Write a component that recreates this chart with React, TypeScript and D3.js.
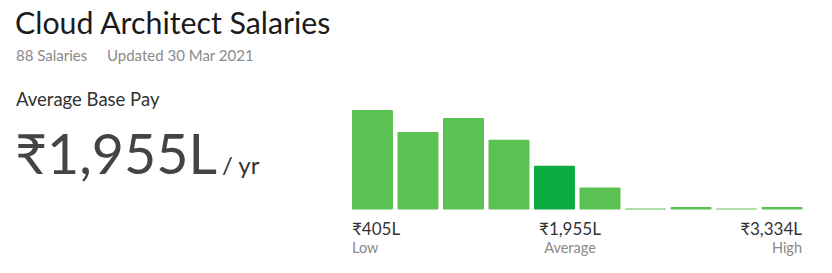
import React from "react";
import * as d3 from "d3";

// Salary distribution buckets (relative share of salaries per band)
const bucketShares = [100, 78, 92, 70, 44, 22, 1, 2.5, 1, 2.5];
const averageBucket = 4;

const title = "Cloud Architect Salaries";
const salaryCount = "88 Salaries";
const updated = "Updated 30 Mar 2021";
const payLabel = "Average Base Pay";
const averagePay = "₹1,955L";
const perYear = "/ yr";
const lowValue = "₹405L";
const averageValue = "₹1,955L";
const highValue = "₹3,334L";
const lowLabel = "Low";
const averageLabel = "Average";
const highLabel = "High";

const W = 832;
const H = 273;
const FONT = "Lato, 'Open Sans', sans-serif";
const LIGHT = "#5bc152";
const DARK = "#0caa41";

export default function App() {
  const x = d3
    .scaleBand<number>()
    .domain(bucketShares.map((_, i) => i))
    .range([352, 802.5])
    .paddingInner(0.1)
    .paddingOuter(0);
  const baseY = 209.5;
  const y = d3
    .scaleLinear()
    .domain([0, d3.max(bucketShares) as number])
    .range([baseY, 110]);

  return (
    <svg
      width={W}
      height={H}
      viewBox={`0 0 ${W} ${H}`}
      style={{ position: "absolute", left: 0, top: 0, background: "#fff" }}
      fontFamily={FONT}
    >
      <text x={15} y={33.5} fontSize={30.3} fill="#1b1b1b">
        {title}
      </text>
      <text x={16} y={61} fontSize={15} fill="#8a8a8a">
        {salaryCount}
      </text>
      <text x={107} y={61} fontSize={15} fill="#8a8a8a">
        {updated}
      </text>
      <text x={16} y={106} fontSize={18.5} fill="#333">
        {payLabel}
      </text>
      <text x={15} y={173.5} fill="#444">
        <tspan fontSize={55.5}>{averagePay}</tspan>
        <tspan fontSize={24} dx={5} fill="#333">
          {perYear}
        </tspan>
      </text>

      {bucketShares.map((v, i) => {
        const top = Math.min(y(v), baseY - 1);
        return (
          <rect
            key={i}
            x={x(i)}
            y={top}
            width={x.bandwidth()}
            height={baseY - top}
            rx={1}
            fill={i === averageBucket ? DARK : LIGHT}
          />
        );
      })}

      <text x={352} y={234.5} fontSize={17} fill="#333">
        {lowValue}
      </text>
      <text x={352} y={252.5} fontSize={14.5} fill="#8a8a8a">
        {lowLabel}
      </text>
      <text x={570} y={234.5} fontSize={17} fill="#333" textAnchor="middle">
        {averageValue}
      </text>
      <text x={570} y={252.5} fontSize={14.5} fill="#8a8a8a" textAnchor="middle">
        {averageLabel}
      </text>
      <text x={802} y={234.5} fontSize={17} fill="#333" textAnchor="end">
        {highValue}
      </text>
      <text x={802} y={252.5} fontSize={14.5} fill="#8a8a8a" textAnchor="end">
        {highLabel}
      </text>
    </svg>
  );
}
